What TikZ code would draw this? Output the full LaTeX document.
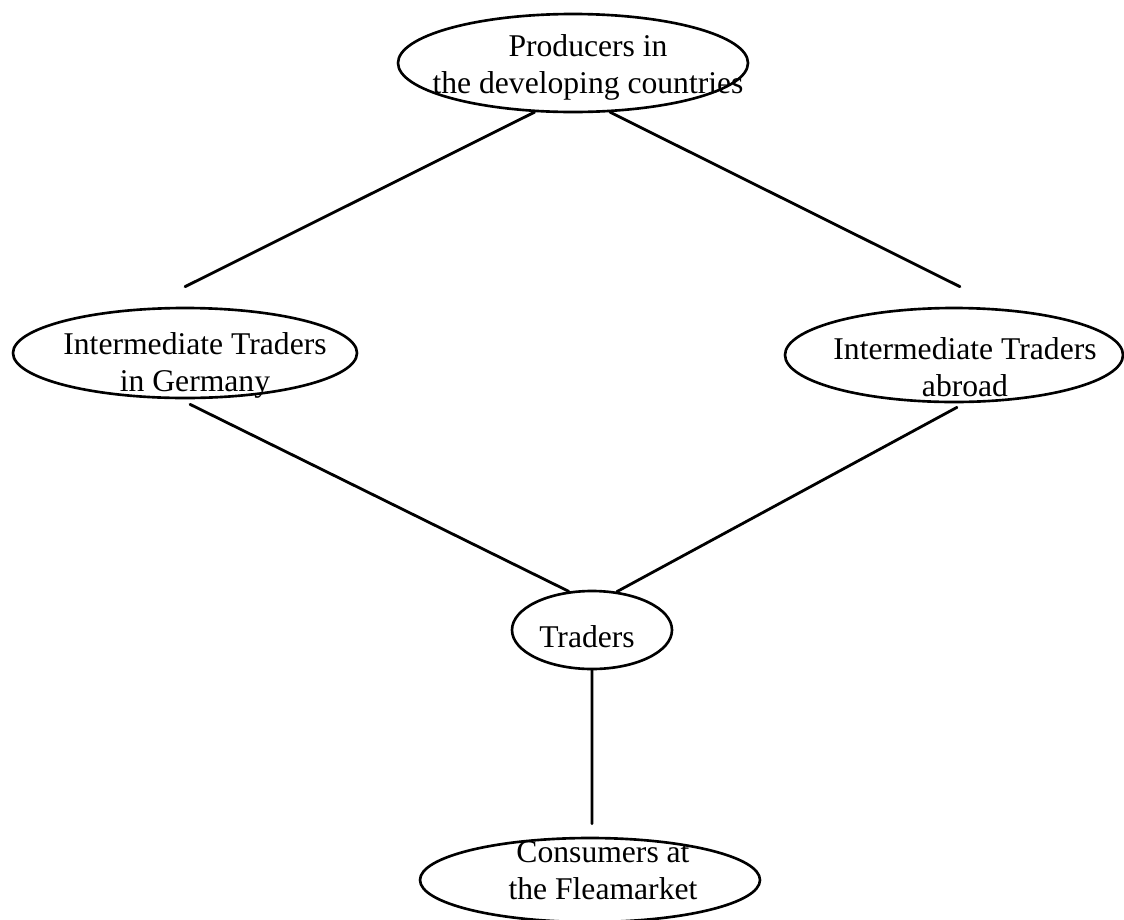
\documentclass[tikz,border=0pt]{standalone}
\usepackage{fontspec}
\setmainfont{Liberation Serif}
\usetikzlibrary{shapes.geometric,calc}
\tikzset{
  ovalnode/.style={ellipse, draw=black, line width=1.5pt, inner sep=0pt},
  ovaltext/.style={align=center, inner sep=0pt,
    font=\fontsize{18}{21}\selectfont},
  plainLine/.style={line width=1.6pt, color=black, line cap=round}
}
\begin{document}
\begin{tikzpicture}
  \useasboundingbox (0,0) rectangle (22.48,-18.38);
  % ovals
  \node[ovalnode, minimum width=7cm, minimum height=1.96cm] (prod) at (11.46,-1.26) {};
  \node[ovalnode, minimum width=6.88cm, minimum height=1.8cm] (germ) at (3.7,-7.06) {};
  \node[ovalnode, minimum width=6.76cm, minimum height=1.88cm] (abr) at (19.08,-7.1) {};
  \node[ovalnode, minimum width=3.2cm, minimum height=1.56cm] (trad) at (11.84,-12.6) {};
  \node[ovalnode, minimum width=6.8cm, minimum height=1.68cm] (cons) at (11.8,-17.6) {};
  % texts
  \node[ovaltext] (prodText) at (11.76,-1.34) {Producers in\\the developing countries};
  \node[ovaltext] (germText) at (3.9,-7.3) {Intermediate Traders\\in Germany};
  \node[ovaltext] (abrText) at (19.3,-7.34) {Intermediate Traders\\abroad};
  \node[ovaltext] (tradText) at (11.74,-12.74) {Traders};
  \node[ovaltext] (consText) at (12.06,-17.42) {Consumers at\\the Fleamarket};
  % line ends
  \coordinate (germIn) at ([shift={(0,0.4)}]germ.north);
  \coordinate (abrIn) at ([shift={(0.12,0.4)}]abr.north);
  \coordinate (germOut) at ([shift={(0.1,-0.1)}]germ.south);
  \coordinate (abrOut) at ([shift={(0.06,-0.08)}]abr.south);
  \coordinate (consIn) at ([shift={(0.04,0.26)}]cons.north);
  \draw[plainLine] (prod.232) -- (germIn);
  \draw[plainLine] (prod.307) -- (abrIn);
  \draw[plainLine] (germOut) -- (trad.121);
  \draw[plainLine] (abrOut) -- (trad.57);
  \draw[plainLine] (trad.south) -- (consIn);
\end{tikzpicture}
\end{document}
